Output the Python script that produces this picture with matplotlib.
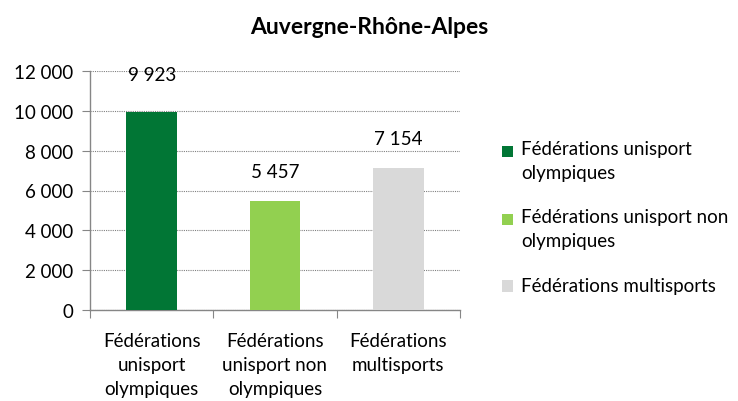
import matplotlib.pyplot as plt
from matplotlib.ticker import MultipleLocator, FuncFormatter
from matplotlib.patches import Patch, Rectangle

categories = ["Fédérations\nunisport\nolympiques",
              "Fédérations\nunisport non\nolympiques",
              "Fédérations\nmultisports"]
legend_labels = ["Fédérations unisport\nolympiques",
                 "Fédérations unisport non\nolympiques",
                 "Fédérations multisports"]
values = [9923, 5457, 7154]
colors = ["#017635", "#92d050", "#d9d9d9"]

plt.rcParams["font.family"] = ["Lato", "DejaVu Sans"]
FS = 13.5


def fmt_thousands(v, pos=None):
    return f"{int(v):,}".replace(",", " ")


class TopSquare:
    # legend square aligned with the first line of a multi-line label
    def __init__(self, shift):
        self.shift = shift

    def legend_artist(self, legend, orig_handle, fontsize, handlebox):
        x0, y0 = handlebox.xdescent, handlebox.ydescent
        p = Rectangle((x0, y0 + self.shift), handlebox.width, handlebox.height,
                      facecolor=orig_handle.get_facecolor(), edgecolor="none",
                      transform=handlebox.get_transform())
        handlebox.add_artist(p)
        return p


fig = plt.figure(figsize=(7.38, 4.02), dpi=100)
ax = fig.add_axes([90 / 738, 1 - 311 / 402, 370 / 738, 239 / 402])

x = list(range(len(values)))
bars = ax.bar(x, values, width=0.41, color=colors, zorder=3)

ax.set_xlim(-0.5, 2.5)
ax.set_ylim(0, 12000)
ax.yaxis.set_major_locator(MultipleLocator(2000))
ax.yaxis.set_major_formatter(FuncFormatter(fmt_thousands))
ax.grid(axis="y", color="#808080", linestyle=(0, (1, 1)), linewidth=0.8, zorder=0)

# category ticks between bars
ax.set_xticks([-0.5, 0.5, 1.5, 2.5])
ax.set_xticklabels([])
ax.set_xticks(x, minor=True)
ax.set_xticklabels(categories, minor=True, fontsize=FS, linespacing=1.5)
ax.tick_params(axis="x", which="minor", length=0, pad=16)
ax.tick_params(axis="x", which="major", length=6, color="#868686", direction="out")
ax.tick_params(axis="y", length=6, color="#868686", labelsize=FS, pad=6)

for s in ["top", "right"]:
    ax.spines[s].set_visible(False)
for s in ["left", "bottom"]:
    ax.spines[s].set_color("#868686")
    ax.spines[s].set_linewidth(1.0)

# value labels above bars
label_offsets = [21, 15, 15]
for xi, v, off in zip(x, values, label_offsets):
    ax.annotate(fmt_thousands(v), (xi, v), xytext=(0, off), textcoords="offset points",
                ha="center", va="bottom", fontsize=FS, annotation_clip=False)

fig.suptitle("Auvergne-Rhône-Alpes", fontsize=16.5, fontweight="bold", y=1 - 28 / 402, va="center")

handles = [Patch(facecolor=c, edgecolor="none") for c in colors]
hmap = {h: TopSquare(8.6 if "\n" in lab else 0) for h, lab in zip(handles, legend_labels)}
leg = fig.legend(handles, legend_labels, loc="center left", bbox_to_anchor=(493 / 738, 1 - 218 / 402),
                 frameon=False, fontsize=FS, handlelength=0.55, handleheight=0.55,
                 handletextpad=0.45, labelspacing=1.45, borderpad=0, handler_map=hmap)
for t in leg.get_texts():
    t.set_linespacing(1.5)

fig.savefig("out.png", dpi=100)
